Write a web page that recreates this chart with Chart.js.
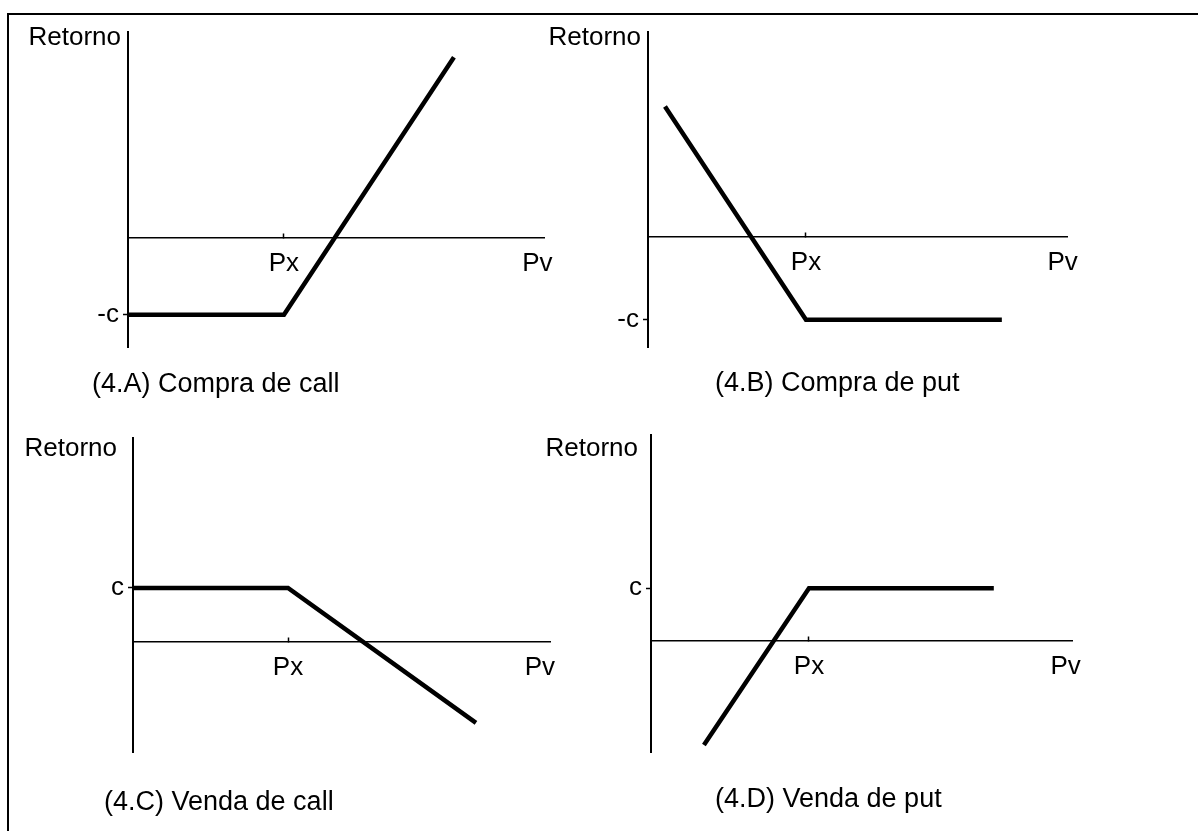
<!DOCTYPE html>
<html>
<head>
<meta charset="utf-8">
<script src="https://cdn.jsdelivr.net/npm/chart.js@4.4.1/dist/chart.umd.min.js"></script>
<style>
  html, body { margin: 0; padding: 0; background: #fff; }
  #page { position: relative; width: 1198px; height: 831px; overflow: hidden;
          font-family: 'Liberation Sans', Arial, sans-serif; color: #000; }
  .frame-top { position: absolute; left: 7px; top: 13px; width: 1191px; border-top: 2px solid #000; }
  .frame-left { position: absolute; left: 7px; top: 13px; height: 818px; border-left: 2px solid #000; }
  canvas { position: absolute; }
  .ret { position: absolute; width: 120px; text-align: right; font-size: 26px; line-height: 26px; white-space: nowrap; }
  .cap { position: absolute; font-size: 27px; line-height: 27px; white-space: nowrap; }
</style>
</head>
<body>
<div id="page">
  <div class="frame-top"></div>
  <div class="frame-left"></div>

  <canvas id="chartA" width="599" height="415" style="left:0;top:0"></canvas>
  <canvas id="chartB" width="599" height="415" style="left:599px;top:0"></canvas>
  <canvas id="chartC" width="599" height="431" style="left:0;top:400px"></canvas>
  <canvas id="chartD" width="599" height="431" style="left:599px;top:400px"></canvas>

  <div class="ret" style="left:1px;top:23px">Retorno</div>
  <div class="ret" style="left:521px;top:23px">Retorno</div>
  <div class="ret" style="left:-3px;top:434px">Retorno</div>
  <div class="ret" style="left:518px;top:434px">Retorno</div>

  <div class="cap" style="left:92px;top:370px">(4.A) Compra de call</div>
  <div class="cap" style="left:715px;top:369px">(4.B) Compra de put</div>
  <div class="cap" style="left:104px;top:788px">(4.C) Venda de call</div>
  <div class="cap" style="left:715px;top:785px">(4.D) Venda de put</div>
</div>

<script>
// price axis ticks (Px = strike, Pv = spot price label)
var xTicks = [40, 105];
var xTickLabels = ['Px', 'Pv'];

// premium tick on the return axis
var premiumBuy = [-10];
var premiumBuyLabel = ['-c'];
var premiumSell = [10];
var premiumSellLabel = ['c'];

// (4.A) compra de call
var callBuyX = [0, 40, 83.6];
var callBuyY = [-10, -10, 23.5];

// (4.B) compra de put
var putBuyX = [4.3, 40, 89.6];
var putBuyY = [15.7, -10, -10];

// (4.C) venda de call
var callSellX = [0, 40, 88.5];
var callSellY = [10, 10, -15];

// (4.D) venda de put
var putSellX = [13.4, 40, 86.8];
var putSellY = [-19.6, 10, 10];

var FONT = "'Liberation Sans', Arial, sans-serif";

function points(xs, ys) {
  return xs.map(function(x, i) { return { x: x, y: ys[i] }; });
}

function payoffChart(canvasId, xs, ys, opts) {
  return new Chart(document.getElementById(canvasId), {
    type: 'scatter',
    data: {
      datasets: [{
        data: points(xs, ys),
        showLine: true,
        borderColor: '#000',
        borderWidth: 4.5,
        borderJoinStyle: 'miter',
        pointRadius: 0,
        pointHoverRadius: 0,
        tension: 0
      }]
    },
    options: {
      responsive: false,
      animation: false,
      events: [],
      layout: { padding: opts.padding },
      plugins: { legend: { display: false }, tooltip: { enabled: false }, title: { display: false } },
      scales: {
        x: {
          type: 'linear',
          position: { y: 0 },
          min: 0,
          max: opts.xMax,
          afterBuildTicks: function(s) {
            s.ticks = xTicks.map(function(v) { return { value: v }; });
          },
          grid: {
            drawOnChartArea: false,
            // negative length: the little Px mark points up, as in the scan
            tickLength: -5,
            tickWidth: 1.5,
            tickColor: function(ctx) { return ctx.index === 0 ? '#000' : 'rgba(0,0,0,0)'; }
          },
          border: { display: true, color: '#000', width: 1.5 },
          ticks: {
            autoSkip: false,
            maxRotation: 0,
            padding: 15,
            color: '#000',
            font: { family: FONT, size: 26 },
            callback: function(v, i) { return xTickLabels[i]; }
          }
        },
        y: {
          type: 'linear',
          position: 'left',
          min: opts.yMin,
          max: opts.yMax,
          afterBuildTicks: function(s) {
            s.ticks = opts.yTicks.map(function(v) { return { value: v }; });
          },
          afterFit: function(s) { s.width = 40; },
          grid: { drawOnChartArea: false, tickLength: 5, tickWidth: 1.5, tickColor: '#000' },
          border: { display: true, color: '#000', width: 2 },
          ticks: {
            autoSkip: false,
            padding: 4,
            color: '#000',
            font: { family: FONT, size: 26 },
            callback: function(v, i) { return opts.yLabels[i]; }
          }
        }
      }
    }
  });
}

payoffChart('chartA', callBuyX, callBuyY, {
  xMax: 106.7, yMin: -14.2, yMax: 26.8,
  yTicks: premiumBuy, yLabels: premiumBuyLabel,
  padding: { left: 88, top: 32, right: 55, bottom: 68 }
});

payoffChart('chartB', putBuyX, putBuyY, {
  xMax: 106.1, yMin: -13.3, yMax: 24.7,
  yTicks: premiumBuy, yLabels: premiumBuyLabel,
  padding: { left: 9, top: 32, right: 131, bottom: 68 }
});

payoffChart('chartC', callSellX, callSellY, {
  xMax: 107.6, yMin: -20.4, yMax: 37.8,
  yTicks: premiumSell, yLabels: premiumSellLabel,
  padding: { left: 93, top: 38, right: 49, bottom: 79 }
});

payoffChart('chartD', putSellX, putSellY, {
  xMax: 106.6, yMin: -20.9, yMax: 38.9,
  yTicks: premiumSell, yLabels: premiumSellLabel,
  padding: { left: 12, top: 35, right: 126, bottom: 79 }
});
</script>
</body>
</html>
